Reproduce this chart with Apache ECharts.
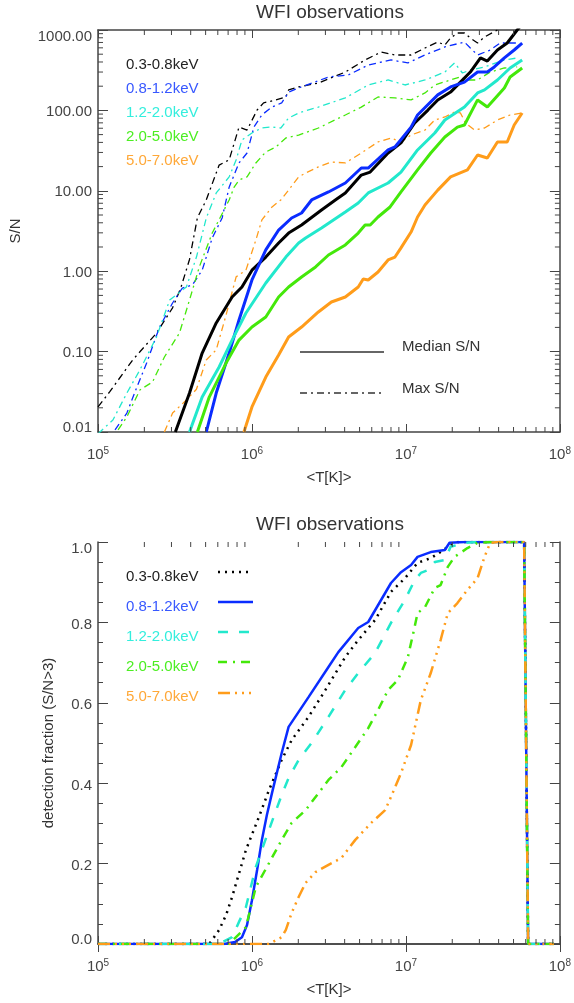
<!DOCTYPE html>
<html><head><meta charset="utf-8">
<script src="https://cdn.jsdelivr.net/npm/echarts@6/dist/echarts.min.js"></script>
<style>html,body{margin:0;padding:0;background:#fff}#c{width:574px;height:1003px}</style>
</head><body><div id="c"></div>
<script>
// ---------- DATA ----------
const bands = ['0.3-0.8keV','0.8-1.2keV','1.2-2.0keV','2.0-5.0keV','5.0-7.0keV'];
// Top panel: Max S/N (dash-dot), pairs [T(K), S/N]
const maxSN_03_08 = [[1.00e5,0.0205],[1.19e5,0.0315],[1.68e5,0.0787],[2.40e5,0.170],[3.05e5,0.35],[3.45e5,0.62],[3.93e5,1.4],[4.42e5,4.6],[5.05e5,7.7],[6.12e5,20.9],[7.11e5,24.2],[8.24e5,62],[9.29e5,57],[1.08e6,101],[1.19e6,124],[1.43e6,135],[1.66e6,147],[1.73e6,180],[2.01e6,196],[2.70e6,219],[4.04e6,300],[5.43e6,424],[6.90e6,532],[8.49e6,489],[1.08e7,489],[1.33e7,597],[1.61e7,709],[1.79e7,651],[1.95e7,795],[2.16e7,918],[2.40e7,918],[2.62e7,795],[2.92e7,689],[3.24e7,818],[3.93e7,1000],[5.69e7,1550]];
const maxSN_08_12 = [[1.29e5,0.0106],[1.54e5,0.0172],[1.79e5,0.0363],[2.07e5,0.072],[2.51e5,0.202],[3.05e5,0.402],[3.53e5,0.618],[4.10e5,0.673],[4.75e5,1.03],[5.52e5,2.59],[6.40e5,4.59],[7.11e5,11.1],[8.24e5,22.2],[9.29e5,29.5],[1.03e6,62],[1.16e6,88],[1.35e6,110],[1.56e6,124],[1.73e6,169],[2.01e6,190],[3.14e6,260],[4.23e6,276],[5.69e6,367],[8.00e6,424],[1.03e7,389],[1.33e7,489],[1.79e7,615],[2.40e7,709],[2.62e7,597],[2.92e7,489],[3.53e7,564],[4.10e7,689],[5.28e7,689]];
const maxSN_12_20 = [[1.00e5,0.0095],[1.25e5,0.0141],[1.54e5,0.0305],[1.87e5,0.059],[2.40e5,0.152],[2.92e5,0.438],[3.75e5,0.637],[4.36e5,1.50],[5.05e5,4.59],[5.86e5,9.4],[7.11e5,14.9],[7.89e5,24.2],[8.61e5,42.9],[1.00e6,52.4],[1.16e6,60.4],[1.33e6,62.2],[1.54e6,60.4],[1.73e6,80.4],[2.01e6,92.9],[2.70e6,110],[4.04e6,143],[5.69e6,207],[7.66e6,239],[9.86e6,207],[1.33e7,239],[1.79e7,300],[2.07e7,389],[2.33e7,292],[2.62e7,318],[3.24e7,347],[4.36e7,424],[5.28e7,449]];
const maxSN_20_50 = [[1.35e5,0.0106],[1.54e5,0.0154],[1.87e5,0.0333],[2.26e5,0.0419],[2.70e5,0.0857],[3.38e5,0.170],[3.93e5,0.438],[4.55e5,1.13],[5.52e5,2.98],[7.11e5,7.69],[7.66e5,11.1],[8.24e5,13.6],[9.29e5,14.9],[1.06e6,22.2],[1.23e6,30.4],[1.43e6,35.1],[1.66e6,45.4],[2.01e6,49.4],[2.70e6,60.4],[4.04e6,87.7],[5.13e6,110],[6.59e6,147],[8.49e6,143],[1.08e7,135],[1.33e7,165],[1.54e7,207],[1.95e7,239],[2.23e7,260],[2.51e7,239],[2.92e7,239],[3.53e7,300],[4.36e7,337],[5.28e7,347]];
const maxSN_50_70 = [[2.70e5,0.010],[3.05e5,0.0172],[3.75e5,0.025],[4.36e5,0.034],[5.05e5,0.0787],[5.86e5,0.105],[6.79e5,0.285],[7.89e5,0.85],[9.14e5,1.03],[1.06e6,2.44],[1.16e6,4.34],[1.35e6,6.3],[1.54e6,7.7],[1.73e6,10.2],[2.01e6,14.9],[2.23e6,16.6],[2.70e6,19.8],[3.28e6,22.8],[4.04e6,22.2],[5.13e6,29.5],[6.59e6,40.5],[8.00e6,45.4],[9.29e6,40.5],[1.08e7,49.4],[1.33e7,57],[1.54e7,76],[1.79e7,82.8],[2.07e7,95.5],[2.26e7,92.9],[2.44e7,69.7],[2.79e7,57],[3.24e7,60.4],[3.93e7,76],[4.75e7,87.7],[5.69e7,92.9]];
// Top panel: Median S/N (solid)
const medSN_03_08 = [[3.18e5,0.01],[3.93e5,0.0305],[4.75e5,0.096],[5.86e5,0.227],[7.43e5,0.478],[8.61e5,0.637],[1.00e6,1.03],[1.23e6,1.50],[1.49e6,2.24],[1.73e6,2.98],[2.10e6,3.76],[2.83e6,5.77],[3.48e6,7.69],[4.04e6,9.4],[5.13e6,15.7],[5.86e6,17.1],[7.66e6,29.5],[9.29e6,39.4],[1.14e7,69.7],[1.39e7,101],[1.61e7,135],[1.95e7,169],[2.26e7,225],[2.62e7,300],[3.05e7,449],[3.38e7,411],[3.93e7,564],[4.55e7,689],[5.28e7,1000],[5.69e7,1188]];
const medSN_08_12 = [[5.05e5,0.01],[5.86e5,0.0305],[7.11e5,0.096],[8.24e5,0.247],[1.00e6,0.778],[1.23e6,1.84],[1.49e6,3.25],[1.81e6,4.59],[2.10e6,5.30],[2.44e6,7.69],[3.14e6,9.67],[4.04e6,12.5],[5.13e6,19.2],[5.69e6,19.2],[7.66e6,32.2],[8.49e6,35.1],[1.08e7,62],[1.19e7,87.7],[1.61e7,156],[1.95e7,196],[2.40e7,225],[2.92e7,300],[3.38e7,300],[3.75e7,347],[4.36e7,449],[5.05e7,564],[5.69e7,689]];
const medSN_12_20 = [[3.93e5,0.01],[4.75e5,0.0272],[6.12e5,0.0643],[7.43e5,0.139],[9.14e5,0.302],[1.23e6,0.713],[1.66e6,1.50],[2.01e6,2.24],[2.23e6,2.59],[2.83e6,3.44],[4.04e6,5.45],[4.90e6,7.05],[5.69e6,9.4],[7.66e6,12.5],[9.29e6,17.1],[1.19e7,32.2],[1.54e7,52.4],[1.79e7,76],[2.40e7,110],[2.92e7,165],[3.24e7,180],[3.93e7,239],[4.75e7,337],[5.69e7,424]];
const medSN_20_50 = [[4.42e5,0.01],[5.28e5,0.0272],[6.79e5,0.072],[8.24e5,0.139],[1.00e6,0.202],[1.23e6,0.269],[1.49e6,0.478],[1.73e6,0.637],[2.10e6,0.847],[2.59e6,1.13],[3.14e6,1.59],[4.04e6,2.12],[4.90e6,2.98],[5.43e6,3.76],[5.86e6,3.76],[6.59e6,4.72],[7.89e6,6.29],[9.29e6,9.67],[1.19e7,18.2],[1.45e7,29.5],[1.79e7,46.7],[2.16e7,62],[2.40e7,65.9],[2.92e7,135],[3.38e7,110],[4.36e7,190],[4.75e7,260],[5.69e7,337]];
const medSN_50_70 = [[8.87e5,0.01],[1.00e6,0.0205],[1.23e6,0.0483],[1.49e6,0.0908],[1.73e6,0.152],[2.10e6,0.202],[2.70e6,0.311],[3.28e6,0.414],[4.04e6,0.478],[4.90e6,0.637],[5.28e6,0.80],[5.69e6,0.778],[6.59e6,0.977],[7.66e6,1.38],[8.49e6,1.50],[9.29e6,1.95],[1.08e7,3.07],[1.19e7,4.72],[1.33e7,6.66],[1.61e7,10.2],[1.95e7,14.9],[2.51e7,18.2],[2.92e7,27.9],[3.38e7,25.6],[3.93e7,40.5],[4.55e7,40.5],[5.05e7,65.8],[5.69e7,92.9]];
// Bottom panel: detection fraction (S/N>3), pairs [T(K), fraction]
const det_03_08 = [[1.00e5,0],[5.28e5,0],[6.12e5,0.035],[6.79e5,0.072],[7.43e5,0.117],[9.14e5,0.234],[1.11e6,0.316],[1.29e6,0.383],[1.56e6,0.458],[1.81e6,0.507],[2.33e6,0.565],[3.00e6,0.632],[4.04e6,0.714],[4.90e6,0.756],[6.31e6,0.806],[8.00e6,0.876],[9.86e6,0.910],[1.19e7,0.948],[1.45e7,0.960],[1.68e7,0.975],[1.87e7,0.988],[2.16e7,1.0],[5.86e7,1.0],[6.22e7,0],[9.14e7,0]];
const det_08_12 = [[1.00e5,0],[6.59e5,0],[7.76e5,0.005],[8.61e5,0.017],[9.29e5,0.047],[1.00e6,0.109],[1.08e6,0.184],[1.16e6,0.259],[1.25e6,0.321],[1.35e6,0.376],[1.56e6,0.475],[1.73e6,0.540],[2.33e6,0.614],[3.14e6,0.689],[3.64e6,0.726],[4.90e6,0.786],[5.69e6,0.801],[8.00e6,0.898],[9.29e6,0.925],[1.08e7,0.943],[1.19e7,0.963],[1.45e7,0.975],[1.79e7,0.980],[1.92e7,0.998],[2.40e7,1.0],[5.86e7,1.0],[6.22e7,0],[9.14e7,0]];
const det_12_20 = [[1.00e5,0],[6.12e5,0],[7.43e5,0.017],[8.24e5,0.055],[9.14e5,0.092],[1.06e6,0.192],[1.29e6,0.284],[1.56e6,0.371],[1.73e6,0.413],[2.01e6,0.458],[2.44e6,0.5],[3.14e6,0.565],[4.04e6,0.632],[4.90e6,0.674],[6.31e6,0.724],[8.00e6,0.799],[9.86e6,0.856],[1.14e7,0.905],[1.25e7,0.923],[1.39e7,0.930],[1.54e7,0.950],[1.79e7,0.955],[1.95e7,0.988],[2.40e7,0.998],[2.92e7,1.0],[5.86e7,1.0],[6.22e7,0],[9.14e7,0]];
const det_20_50 = [[1.00e5,0],[7.11e5,0],[9.14e5,0.042],[1.06e6,0.142],[1.29e6,0.201],[1.56e6,0.259],[1.81e6,0.301],[2.23e6,0.333],[3.14e6,0.408],[3.81e6,0.440],[4.69e6,0.490],[5.69e6,0.537],[6.59e6,0.582],[7.66e6,0.632],[8.87e6,0.657],[1.03e7,0.714],[1.14e7,0.789],[1.19e7,0.823],[1.33e7,0.838],[1.54e7,0.886],[1.68e7,0.893],[1.87e7,0.938],[2.07e7,0.963],[2.51e7,0.985],[2.92e7,0.998],[3.53e7,1.0],[5.86e7,1.0],[6.22e7,0],[9.14e7,0]];
const det_50_70 = [[1.00e5,0],[1.29e6,0],[1.56e6,0.017],[1.66e6,0.035],[1.81e6,0.077],[2.01e6,0.117],[2.23e6,0.152],[2.59e6,0.179],[3.14e6,0.197],[3.81e6,0.214],[4.69e6,0.259],[5.94e6,0.301],[7.33e6,0.333],[8.00e6,0.366],[9.29e6,0.425],[1.08e7,0.495],[1.25e7,0.607],[1.45e7,0.674],[1.68e7,0.756],[1.87e7,0.823],[2.16e7,0.848],[2.51e7,0.881],[2.92e7,0.910],[3.24e7,0.963],[3.53e7,0.998],[3.93e7,1.0],[5.86e7,1.0],[6.22e7,0],[9.14e7,0]];
// Minor tick positions (axis decoration)
const xMinorTicks = [2e5,3e5,4e5,5e5,6e5,7e5,8e5,9e5,2e6,3e6,4e6,5e6,6e6,7e6,8e6,9e6,2e7,3e7,4e7,5e7,6e7,7e7,8e7,9e7];
const yMinorTicksLog = [0.02,0.03,0.04,0.05,0.06,0.07,0.08,0.09,0.2,0.3,0.4,0.5,0.6,0.7,0.8,0.9,2,3,4,5,6,7,8,9,20,30,40,50,60,70,80,90,200,300,400,500,600,700,800,900];

// ---------- STYLE ----------
const FONT = '"Liberation Sans", Arial, Helvetica, sans-serif';
const lineColors = ['#000000','#0a2cff','#22e8cc','#44e80a','#ff9c1a'];
const textColors = ['#222222','#3858ff','#33eedd','#4cee22','#ffa838'];
const AX = '#444';
const LBL = {fontSize:15, fontFamily:FONT, color:'#444'};

const chart = echarts.init(document.getElementById('c'), null, {renderer:'canvas'});

function xAxisCfg(grid, pos, showLabel, name){
  return {
    gridIndex: grid, type:'log', logBase:10, min:1e5, max:1e8, position:pos,
    axisLine:{show:true, lineStyle:{color:AX, width:1.5}},
    axisTick:{show:true, inside:true, length:8, lineStyle:{color:AX, width:1}},
    splitLine:{show:false},
    axisLabel:{show:showLabel, margin:14, color:'#444',
      formatter:v => '{b|10}{s|' + Math.round(Math.log10(v)) + '}',
      rich:{b:{fontSize:15, fontFamily:FONT, color:'#444', lineHeight:18}, s:{fontSize:10, fontFamily:FONT, color:'#444', verticalAlign:'top', lineHeight:10}}},
    name: name || '', nameLocation:'middle', nameGap:38,
    nameTextStyle:{fontSize:15, fontFamily:FONT, color:'#333'}
  };
}
function yLogCfg(grid, pos, showLabel, name){
  return {
    gridIndex:grid, type:'log', logBase:10, min:0.01, max:1000, position:pos,
    axisLine:{show:true, lineStyle:{color:AX, width:1.5}},
    axisTick:{show:true, inside:true, length:10, lineStyle:{color:AX, width:1}},
    splitLine:{show:false},
    axisLabel:{show:showLabel, margin:6,
      formatter:v => { const s = Number(v).toFixed(2); if (v > 500) return '{dn|'+s+'}'; if (v < 0.02) return '{up|'+s+'}'; return '{n|'+s+'}'; },
      rich:{n:Object.assign({padding:[3,0,0,0]},LBL), dn:Object.assign({padding:[14,0,0,0]},LBL), up:Object.assign({padding:[0,0,8,0]},LBL)}},
    name:name||'', nameLocation:'middle', nameGap:75, nameRotate:90,
    nameTextStyle:{fontSize:15, fontFamily:FONT, color:'#333'}
  };
}
function yLinCfg(grid, pos, showLabel, name){
  return {
    gridIndex:grid, type:'value', min:0, max:1, interval:0.2, position:pos,
    axisLine:{show:true, lineStyle:{color:AX, width:1.5}},
    axisTick:{show:true, inside:true, length:10, lineStyle:{color:AX, width:1}},
    minorTick:{show:true, splitNumber:4, length:5, lineStyle:{color:AX, width:1}},
    splitLine:{show:false}, minorSplitLine:{show:false},
    axisLabel:{show:showLabel, margin:6,
      formatter:v => { const s = Number(v).toFixed(1); if (v > 0.9) return '{dn|'+s+'}'; if (v < 0.1) return '{up|'+s+'}'; return '{n|'+s+'}'; },
      rich:{n:Object.assign({padding:[5,0,0,0]},LBL), dn:Object.assign({padding:[14,0,0,0]},LBL), up:Object.assign({padding:[0,0,8,0]},LBL)}},
    name:name||'', nameLocation:'middle', nameGap:42, nameRotate:90,
    nameTextStyle:{fontSize:15, fontFamily:FONT, color:'#333'}
  };
}

function xMinorSeries(xi, yi, yLo, yHi){
  return {type:'custom', xAxisIndex:xi, yAxisIndex:yi, silent:true, animation:false, z:5,
    data: xMinorTicks.map(v => [v, yLo]),
    renderItem:(params, api) => {
      const b = api.coord([api.value(0), yLo]);
      const t = api.coord([api.value(0), yHi]);
      const st = {stroke:AX, lineWidth:1};
      return {type:'group', children:[
        {type:'line', shape:{x1:b[0], y1:b[1], x2:b[0], y2:b[1]-5}, style:st},
        {type:'line', shape:{x1:t[0], y1:t[1], x2:t[0], y2:t[1]+5}, style:st}
      ]};
    }};
}
function yMinorSeries(xi, yi, xLo, xHi){
  return {type:'custom', xAxisIndex:xi, yAxisIndex:yi, silent:true, animation:false, z:5,
    data: yMinorTicksLog.map(v => [xLo, v]),
    renderItem:(params, api) => {
      const l = api.coord([xLo, api.value(1)]);
      const r = api.coord([xHi, api.value(1)]);
      const st = {stroke:AX, lineWidth:1};
      return {type:'group', children:[
        {type:'line', shape:{x1:l[0], y1:l[1], x2:l[0]+5, y2:l[1]}, style:st},
        {type:'line', shape:{x1:r[0], y1:r[1], x2:r[0]-5, y2:r[1]}, style:st}
      ]};
    }};
}

const maxData = [maxSN_03_08, maxSN_08_12, maxSN_12_20, maxSN_20_50, maxSN_50_70];
const medData = [medSN_03_08, medSN_08_12, medSN_12_20, medSN_20_50, medSN_50_70];
const detData = [det_03_08, det_08_12, det_12_20, det_20_50, det_50_70];
const detDash = [[2,5], 'solid', [10,11], [9,6,2,6], [12,5,2,5,2,5,2,5]];

const series = [];
maxData.forEach((d,i) => series.push({type:'line', name:bands[i]+' max', xAxisIndex:0, yAxisIndex:0, data:d, showSymbol:false, symbol:'none', clip:true, z:2,
  lineStyle:{color:lineColors[i], width:1.3, type:[7,4,2,4]}}));
medData.forEach((d,i) => series.push({type:'line', name:bands[i]+' median', xAxisIndex:0, yAxisIndex:0, data:d, showSymbol:false, symbol:'none', clip:true, z:3,
  lineStyle:{color:lineColors[i], width:3}}));
detData.forEach((d,i) => series.push({type:'line', name:bands[i]+' det', xAxisIndex:2, yAxisIndex:2, data:d, showSymbol:false, symbol:'none', clip:true, z:3,
  lineStyle:{color:lineColors[i], width:2.5, type:detDash[i], cap:'butt'}}));
series.push(xMinorSeries(0,0,0.01,1000));
series.push(yMinorSeries(0,0,1e5,1e8));
series.push(xMinorSeries(2,2,0,1));

// graphic: titles and in-plot legends
const g = [];
function txt(x,y,text,color,size,align){
  g.push({type:'text', x:x, y:y, silent:true, style:{text:text, fill:color, font:(size||15)+'px '+FONT,
    textAlign:align||'left', textVerticalAlign:'middle', align:align||'left', verticalAlign:'middle'}});
}
function seg(x1,y1,x2,y2,color,w,dash){
  g.push({type:'line', silent:true, shape:{x1:x1,y1:y1,x2:x2,y2:y2}, style:{stroke:color, lineWidth:w, lineDash:dash||null, lineCap:'butt'}});
}
txt(330, 13, 'WFI observations', '#333', 19, 'center');
txt(330, 525, 'WFI observations', '#333', 19, 'center');
const legTopY = [65, 89, 113, 137, 161];
bands.forEach((b,i) => txt(126, legTopY[i], b, textColors[i], 15));
seg(300, 352, 384, 352, '#333', 1.3);
txt(402, 347, 'Median S/N', '#333', 15);
seg(300, 393, 384, 393, '#333', 1.3, [7,4,2,4]);
txt(402, 389, 'Max S/N', '#333', 15);
const legBotY = [577, 607, 637, 667, 697];
const legBotLineY = [572, 602, 632, 662, 693];
bands.forEach((b,i) => {
  txt(126, legBotY[i], b, textColors[i], 15);
  seg(218, legBotLineY[i], 253, legBotLineY[i], lineColors[i], 2.5, detDash[i]==='solid'?null:detDash[i]);
});

chart.setOption({
  animation:false,
  backgroundColor:'#fff',
  textStyle:{fontFamily:FONT},
  grid:[{left:98, top:30, width:465, height:402}, {left:98, top:542, width:465, height:402}],
  xAxis:[xAxisCfg(0,'bottom',true,'<T[K]>'), xAxisCfg(0,'top',false), xAxisCfg(1,'bottom',true,'<T[K]>'), xAxisCfg(1,'top',false)],
  yAxis:[yLogCfg(0,'left',true,'S/N'), yLogCfg(0,'right',false), yLinCfg(1,'left',true,'detection fraction (S/N>3)'), yLinCfg(1,'right',false)],
  series: series,
  graphic: g
});
</script></body></html>
